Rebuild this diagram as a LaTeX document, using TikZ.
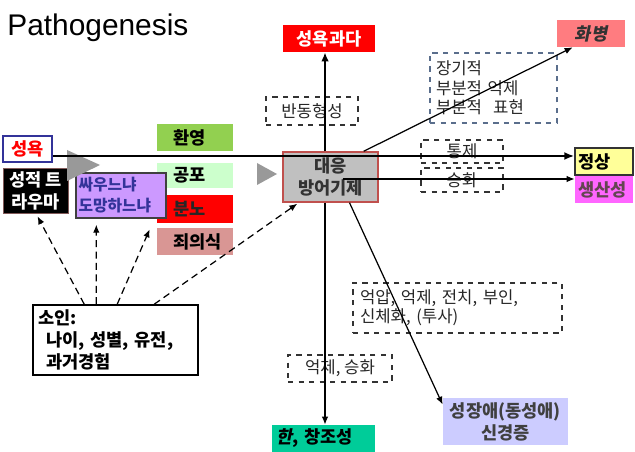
\documentclass[tikz,border=0pt]{standalone}
\usepackage{fontspec}
\setsansfont{Liberation Sans}
\newfontfamily\kr{Noto Sans CJK KR}
\newfontfamily\krslant{Noto Sans CJK KR}[FakeSlant=0.2]
\usetikzlibrary{arrows.meta,calc}
\definecolor{pgred}{RGB}{255,0,0}
\definecolor{pgsalmon}{RGB}{255,124,128}
\definecolor{pgviolet}{RGB}{204,153,255}
\definecolor{pggreen}{RGB}{146,208,80}
\definecolor{pgmint}{RGB}{204,255,204}
\definecolor{pgrose}{RGB}{217,150,148}
\definecolor{pggray}{RGB}{192,192,192}
\definecolor{pgyellow}{RGB}{255,255,153}
\definecolor{pgmagenta}{RGB}{255,102,255}
\definecolor{pgteal}{RGB}{0,204,153}
\definecolor{pglilac}{RGB}{204,204,255}
\definecolor{pgblue}{RGB}{51,51,153}
\definecolor{pgbrick}{RGB}{192,80,77}
\definecolor{pgslate}{RGB}{90,110,140}
\begin{document}
\begin{tikzpicture}[x=0.02cm,y=-0.02cm,
  box/.style={rectangle,inner sep=0pt,font=\kr\bfseries\fontsize{10}{12.5}\selectfont,align=center},
  dbox/.style={draw=black!80,dashed,line width=0.6pt,rectangle,inner sep=0pt,
    font=\kr\fontsize{9.5}{11}\selectfont,align=center,text=black!85},
  arr/.style={-{Latex[length=1.6mm,width=1.3mm]},line width=0.7pt},
  darr/.style={arr,dashed,dash pattern=on 4pt off 2.5pt}
]
  \useasboundingbox (0,0) rectangle (635,452);
  % Title
  \node[anchor=base west,inner sep=0pt,font=\sffamily\fontsize{17}{20}\selectfont] (title) at (7,36) {Pathogenesis};
  % Top
  \node[box,fill=pgred,text=white,minimum width=1.84cm,minimum height=0.54cm] (libido) at (329,38.5) {성욕과다};
  \node[box,fill=pgsalmon,text=black!80,minimum width=1.36cm,minimum height=0.54cm,
    font=\krslant\bfseries\fontsize{10}{12}\selectfont] (hwabyung) at (591,33.5) {화병};
  \node[dbox,minimum width=1.84cm,minimum height=0.56cm] (reaction) at (312,111) {반동형성};
  \node[dbox,draw=pgslate,minimum width=2.54cm,minimum height=1.4cm,text width=2.3cm,align=left] (partial) at (493.5,88) {장기적\\부분적 억제\\부분적~~표현};
  % Left
  \node[box,draw=pgblue,line width=0.8pt,fill=white,text=pgred,minimum width=0.98cm,minimum height=0.52cm] (desire) at (27.5,149) {성욕};
  \node[box,fill=black,draw=pgrose!60!black,text=white,minimum width=1.3cm,minimum height=0.9cm] (trauma) at (35.5,190.5) {성적 트\\라우마};
  % Emotions
  \node[box,fill=pggreen,minimum width=1.52cm,minimum height=0.54cm,text width=0.88cm,align=left] (welcome) at (195,137.5) {환영};
  \node[box,fill=pgmint,minimum width=1.52cm,minimum height=0.5cm,text width=0.88cm,align=left] (fear) at (195,175.5) {공포};
  \node[box,fill=pgred,text=black!85,minimum width=1.52cm,minimum height=0.56cm,text width=0.88cm,align=left] (anger) at (195,209) {분노};
  \node[box,fill=pgrose,minimum width=1.52cm,minimum height=0.54cm,text width=0.88cm,align=left] (guilt) at (195,241.5) {죄의식};
  \node[box,fill=pgviolet,draw=black!75,line width=0.8pt,text=pgblue,minimum width=1.8cm,minimum height=0.9cm,text width=1.7cm,align=left,
    font=\kr\bfseries\fontsize{9}{12}\selectfont] (fight) at (121,195.5) {싸우느냐\\도망하느냐};
  % Centre
  \node[box,fill=pggray,draw=pgbrick,line width=0.8pt,text=black!80,minimum width=1.9cm,minimum height=1cm] (defense) at (330.5,177) {대응\\방어기제};
  \node[dbox,minimum width=1.64cm,minimum height=0.46cm] (control) at (462,151.5) {통제};
  \node[dbox,minimum width=1.64cm,minimum height=0.48cm] (sublim) at (462,180) {승화};
  % Right
  \node[box,fill=pgyellow,draw=black!80,line width=0.8pt,minimum width=1.16cm,minimum height=0.54cm,text width=1.04cm,align=left] (normal) at (604,161.5) {정상};
  \node[box,fill=pgmagenta,text=black!70!magenta,minimum width=1.16cm,minimum height=0.54cm,text width=1.04cm,align=left] (product) at (604,189.5) {생산성};
  % Bottom
  \node[dbox,minimum width=4.18cm,minimum height=1cm,text width=3.9cm,align=left] (repress) at (457.5,308) {억압, 억제, 전치, 부인,\\신체화, (투사)};
  \node[dbox,minimum width=2.08cm,minimum height=0.54cm] (supsub) at (340,368.5) {억제, 승화};
  \node[box,fill=pgteal,minimum width=2.06cm,minimum height=0.54cm,text width=1.9cm,align=left] (creative) at (323.5,438.5) {{\krslant 한}, 창조성};
  \node[box,fill=pglilac,text=black!75,minimum width=2.5cm,minimum height=0.94cm] (neurosis) at (505.5,421.5) {성장애(동성애)\\신경증};
  \node[box,draw=black,line width=0.9pt,fill=white,minimum width=3.3cm,minimum height=1.4cm,text width=3.1cm,align=left] (cause) at (115.5,340) {소인:\\\hspace*{0.16cm}나이, 성별, 유전,\\\hspace*{0.16cm}과거경험};
  % Gray arrowheads
  \fill[black!40] (67,150) -- (100,165) -- (67,181) -- cycle;
  \fill[black!40] (257,163) -- (277,174) -- (257,185) -- cycle;
  % Main lines
  \coordinate (axis) at (325,0);
  \draw[line width=1.4pt,-{Latex[length=2mm,width=1.6mm]}] (desire.east |- 0,156) -- (normal.west |- 0,156);
  \draw[arr] ($(defense.center)+(12,2)$) -- (product.west |- 0,179);
  \draw[line width=1.2pt,-{Latex[length=1.8mm,width=1.5mm]}] (defense.north -| axis) -- (libido.south -| axis);
  \draw[arr] (defense.south -| axis) -- (creative.north -| axis);
  \draw[arr] ($(defense.north east)+(-15,0)$) -- ($(hwabyung.south west)+(16,0)$);
  \draw[arr] ($(defense.south)+(19,0)$) -- ($(neurosis.north west)+(0,7)$);
  % Predisposition
  \draw[darr] ($(cause.north west)+(52,0)$) -- ($(trauma.south)+(2,3)$);
  \draw[darr] ($(cause.north west)+(64,0)$) -- ($(fight.south west)+(21,6)$);
  \draw[darr] ($(cause.north west)+(85,0)$) -- ($(anger.south west)+(-7,6)$);
  \draw[darr] ($(cause.north west)+(122,0)$) -- ($(defense.south west)+(15,1)$);
\end{tikzpicture}
\end{document}
